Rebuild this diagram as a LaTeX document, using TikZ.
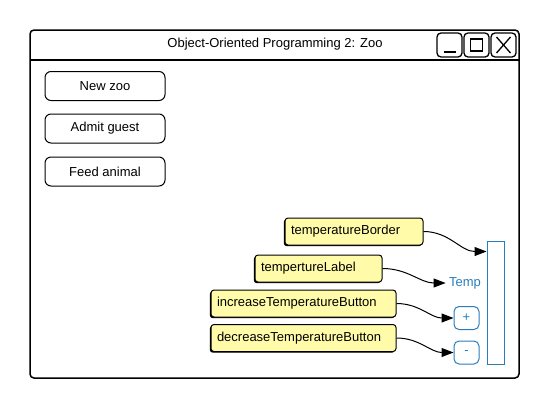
\documentclass[tikz,border=0pt]{standalone}
\usepackage{fontspec}
\setmainfont{Liberation Sans}
\usetikzlibrary{positioning,arrows.meta,calc}
\definecolor{NoteFill}{HTML}{FFFBA8}
\definecolor{WidgetBlue}{HTML}{2A7DBA}

\begin{document}
\begin{tikzpicture}[x=1pt, y=-1pt,
    txt/.style={font=\fontsize{13}{15}\selectfont},
    btn/.style={txt, draw, line width=1pt, rounded corners=6pt,
      minimum width=120pt, minimum height=29pt},
    winbtn/.style={draw, line width=1.3pt, rounded corners=4pt,
      minimum width=25pt, minimum height=24pt},
    note/.style={txt, draw, line width=1pt, fill=NoteFill, rounded corners=3pt,
      align=left, inner xsep=6pt, minimum height=27pt,
      preaction={fill=black, transform canvas={shift={(-1.2pt,-1.2pt)}}}},
    bluebtn/.style={txt, draw=WidgetBlue, text=WidgetBlue, line width=1pt,
      rounded corners=5pt, minimum width=25pt, minimum height=23pt},
    link/.style={-{Triangle[length=12pt,width=9pt]}, line width=1pt}]
  \useasboundingbox (0,0) rectangle (549,408);
  % window frame and title bar
  \draw[line width=1.5pt, rounded corners=4pt] (30,30) rectangle (519,378);
  \draw[line width=1.5pt] (30,60) -- (519,60);
  \node[txt] (title) at (275,44) {Object-Oriented Programming 2: Zoo};
  % minimise / maximise / close
  \node[winbtn] (minbtn) at (449.5,45) {};
  \node[winbtn] (maxbtn) at (476.5,45) {};
  \node[winbtn] (closebtn) at (503.5,45) {};
  \draw[line width=2pt] ($(minbtn.center)+(-6,7)$) -- ($(minbtn.center)+(6,7)$);
  \draw[line width=1.8pt] ($(maxbtn.center)+(-6,-6)$) rectangle ($(maxbtn.center)+(6,6)$);
  \draw[line width=1.3pt] ($(closebtn.center)+(-7,-8)$) -- ($(closebtn.center)+(7,8)$);
  \draw[line width=1.3pt] ($(closebtn.center)+(-7,8)$) -- ($(closebtn.center)+(7,-8)$);
  % menu buttons
  \node[btn] (newzoo) at (105,86) {New zoo};
  \node[btn] (admit) at (105,128.5) {Admit guest};
  \node[btn] (feed) at (105,171.5) {Feed animal};
  % temperature widget
  \node[draw=WidgetBlue, line width=1pt, minimum width=17pt, minimum height=123pt,
    inner sep=0pt] (border) at (495.5,302.5) {};
  \coordinate (borderin) at ($(border.north west)+(0,11)$);
  \node[txt, text=WidgetBlue] (templabel) at (465,283) {Temp};
  \node[bluebtn] (plus) at (466.5,318) {+};
  \node[bluebtn] (minus) at (466.5,352.5) {-};
  % annotations
  \node[note, text width=126pt] (nborder) at (354,231.5) {temperatureBorder};
  \node[note, text width=115pt] (nlabel) at (318.5,268.5) {tempertureLabel};
  \node[note, text width=173pt] (nplus) at (303.5,303.5) {increaseTemperatureButton};
  \node[note, text width=173pt] (nminus) at (303.5,338) {decreaseTemperatureButton};
  \draw[link] (nborder.east) to[out=0, in=180] (borderin);
  \draw[link] (nlabel.east) to[out=0, in=180] (templabel.west);
  \draw[link] (nplus.east) to[out=0, in=180] (plus.west);
  \draw[link] (nminus.east) to[out=0, in=180] (minus.west);
\end{tikzpicture}
\end{document}
